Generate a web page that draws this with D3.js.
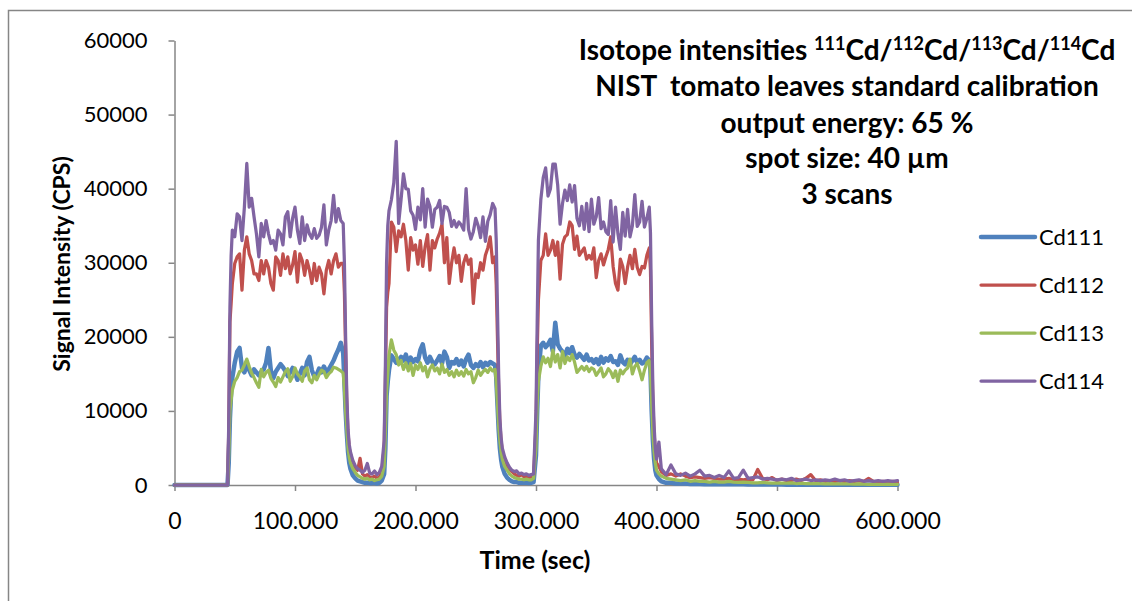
<!DOCTYPE html>
<html>
<head>
<meta charset="utf-8">
<script src="https://cdn.jsdelivr.net/npm/d3@7"></script>
<style>
  html, body { margin: 0; padding: 0; background: #fff; }
  svg { display: block; font-family: Lato, sans-serif; }
</style>
</head>
<body>
<svg id="chart" width="1132" height="601"></svg>
<script>
// time (sec) of each sample, shared by all four isotopes
const times = [
  0, 10, 20, 30, 40, 44, 45, 46, 47,
  48, 50, 52, 54, 56, 58, 60, 62, 64, 66, 68, 70, 72, 74, 76, 78, 80, 82, 84, 86, 88, 90, 92, 94,
  96, 98, 100, 102, 104, 106, 108, 110, 112, 114, 116, 118, 120, 122, 124, 126, 128, 130, 132, 134, 136, 138, 140,
  141, 142, 143, 144, 145, 146, 148,
  150, 152, 154, 156, 158, 160, 162, 164, 166, 168, 170, 172,
  174, 175, 176, 177,
  178, 180, 182, 184, 186, 188, 190, 192, 194, 196, 198, 200, 202, 204, 206, 208, 210, 212, 214, 216, 218, 220,
  222, 224, 226, 228, 230, 232, 234, 236, 238, 240, 242, 244, 246, 248, 250, 252, 254, 256, 258, 260, 262, 264, 266,
  267, 268, 269, 270, 271, 272, 274,
  276, 278, 280, 282, 284, 286, 288, 290, 292, 294, 296, 298,
  300, 301, 302,
  304, 306, 308, 310, 312, 314, 316, 318, 320, 322, 324, 326, 328, 330, 332, 334, 336, 338, 340, 342, 344, 346, 348,
  350, 352, 354, 356, 358, 360, 362, 364, 366, 368, 370, 372, 374, 376, 378, 380, 382, 384, 386, 388, 390, 392, 394,
  395, 396, 397, 398, 399, 400, 402,
  404, 408, 412, 416, 420, 424, 428, 432, 436, 440, 444, 448, 452, 456, 460, 464, 468, 472, 476, 480,
  484, 488, 492, 496, 500, 504, 508, 512, 516, 520, 524, 528, 532, 536, 540, 544, 548, 552, 556, 560,
  564, 568, 572, 576, 580, 584, 588, 592, 596, 600
];

const cd111 = [
  0, 0, 0, 0, 0, 0, 3000, 9000, 12500,
  14500, 16500, 18000, 18500, 15800, 15200, 16300, 15500, 14800, 15600,
  15200, 14800, 15300, 15600, 16500, 18500, 15400, 14400, 15300, 15800,
  16300, 15900, 15400, 14700, 15200, 15800, 15100, 14200, 15000, 15800,
  14800, 16600, 17300, 15500, 14600, 14900, 15700, 15200, 16000, 15300,
  15600, 16200, 16800, 17600, 18300, 19200, 17800,
  14000, 10000, 7000, 4500, 3000, 2200, 1300,
  900, 600, 500, 400, 300, 300, 250, 250, 300, 200, 300, 600,
  1500, 5000, 12000, 14000,
  15500, 17500, 17000, 16500, 16900, 17300, 16800, 17600, 16400, 17200,
  16600, 17000, 16700, 18200, 19000, 17200, 16500, 17300, 16600, 16300,
  16800, 17400, 16400, 18000, 17300, 15800, 16600, 16400, 17000, 16200,
  16800, 16000, 17000, 17600, 16200, 15800, 16300, 16000, 16600, 15900,
  16500, 16200, 16600, 16400, 16200,
  14500, 11000, 7500, 5000, 3500, 2500, 1500,
  1000, 700, 500, 400, 400, 300, 300, 300, 300, 250, 300, 400,
  4000, 10000, 15000,
  18800, 19200, 18600, 19000, 19600, 18000, 21900, 19000, 18400, 18000,
  17400, 18400, 17800, 18600, 17600, 17200, 17700, 17300, 16900, 17600,
  16800, 17000, 16500, 17000, 16300, 17300, 16500, 17100, 16800, 17400,
  16600, 16700, 16200, 17500, 16600, 16300, 16900, 16300, 16800, 17300,
  16500, 16900, 16400, 16600, 17200, 16800,
  15500, 10000, 6000, 3500, 2000, 1300, 800,
  500, 300, 300, 200, 200, 200, 150, 150, 150, 100, 100, 100, 100, 100, 100, 100, 100, 100, 80, 80,
  80, 80, 60, 60, 60, 60, 50, 50, 50, 50, 50, 50, 50, 40, 40, 40, 40, 40, 40, 40,
  30, 30, 30, 30, 30, 30, 30, 30, 30, 30
];

const cd112 = [
  0, 0, 0, 0, 0, 0, 7000, 22000, 24500,
  27200, 29900, 30800, 31200, 26300, 31700, 33500, 31200, 30300, 28500,
  28500, 27600, 30300, 28500, 30300, 29400, 27200, 26300, 30800, 30300,
  28300, 31200, 29200, 30800, 28500, 29700, 31500, 27400, 31200, 30300,
  28300, 30300, 29000, 27200, 29900, 27600, 29400, 28500, 25800, 29000,
  30300, 28500, 30300, 31200, 29400, 29900, 29900,
  26000, 18000, 11000, 7000, 5000, 4200, 3000,
  2300, 2000, 3600, 1500, 1200, 1400, 1100, 1000, 1200, 900, 1100, 1800,
  5000, 14000, 24000, 26000,
  27200, 35500, 34800, 31500, 34300, 33500, 35200, 33000, 29000, 33400,
  31700, 32400, 29800, 33000, 29500, 32200, 33800, 29000, 33000, 32000,
  33200, 34000, 35200, 30000, 33400, 27200, 30000, 32000, 30000, 31000,
  27500, 30000, 31000, 29800, 30500, 24500, 28500, 28000, 30000, 29000,
  31000, 32000, 33500, 30000, 30800,
  27000, 20000, 13000, 8500, 6000, 4600, 3400,
  2600, 2100, 1800, 1500, 1300, 1200, 1400, 1100, 1200, 1000, 1100, 1200,
  8000, 18000, 25000,
  30300, 31000, 33900, 31000, 31700, 33000, 31000, 32800, 27800, 32500,
  33500, 33800, 35500, 35000, 31800, 33600, 31000, 31500, 32000, 30500,
  31000, 30500, 32000, 28000, 30300, 31200, 29700, 30800, 31800, 33500,
  29500, 27200, 26300, 30500, 29500, 27200, 29400, 31000, 29200, 31800,
  29400, 28400, 29500, 29300, 31000, 32000,
  29000, 19000, 11000, 7000, 4500, 3000, 2500,
  1800, 1300, 1500, 1200, 1500, 1200, 1000, 1100, 1000, 900, 1000, 900, 800, 800, 900, 700, 800, 700, 800, 700,
  2100, 900, 700, 1000, 600, 800, 600, 600, 800, 600, 900, 1400, 600, 700, 500, 600, 500, 600, 500, 600,
  500, 600, 500, 900, 500, 400, 500, 400, 500, 400
];

const cd113 = [
  0, 0, 0, 0, 0, 0, 4000, 10000, 11500,
  12800, 14000, 14500, 15300, 15500, 16200, 17000, 16000, 15100, 14500,
  13800, 13200, 15600, 14600, 15200, 15500, 14400, 13900, 13300, 14500,
  13900, 14600, 15300, 15700, 14000, 14600, 15800, 15000, 14600, 14000,
  15400, 15800, 14200, 13800, 14800, 14200, 14900, 15500, 15300, 14500,
  15000, 15300, 15900, 15800, 15600, 15400, 15100,
  13000, 10000, 7500, 5000, 3800, 3000, 2200,
  1700, 1300, 1100, 900, 800, 900, 700, 800, 600, 700, 800, 1200,
  2500, 7000, 12500, 15000,
  17500, 19600, 18200, 17600, 16200, 16800, 15600, 16500, 15400, 16400,
  14800, 16200, 15600, 16500, 15400, 16000, 14600, 15700, 16200, 15400,
  15800, 15000, 16300, 15200, 15600, 14800, 15300, 14600, 15500, 14800,
  15300, 14700, 15600, 15000, 15300, 13800, 14500, 15500, 14800, 15300,
  15600, 15200, 15800, 15400, 15600,
  14000, 11000, 8000, 6000, 4500, 3500, 2500,
  2000, 1500, 1200, 1000, 900, 800, 800, 700, 800, 700, 700, 900,
  5000, 11000, 14000,
  16000, 17300, 16500, 17100, 16000, 18200, 16600, 17600, 15800, 18000,
  16400, 17300, 16800, 17600, 16600, 15200, 15600, 16000, 15500, 16000,
  15300, 15800, 15600, 14800, 15300, 15800, 14600, 15000, 15700, 15300,
  14500, 15400, 14000, 15500, 15000, 15500, 15800, 17000, 15000, 16000,
  16400, 15400, 14200, 15500, 16500, 16800,
  15000, 11000, 7000, 4500, 3000, 2000, 1500,
  1200, 900, 800, 700, 600, 700, 500, 600, 500, 500, 400, 500, 400, 400, 500, 400, 350, 400, 350, 300,
  300, 350, 300, 250, 300, 250, 250, 300, 200, 250, 200, 200, 200, 200, 150, 200, 150, 150, 150, 150,
  120, 150, 120, 100, 120, 100, 100, 120, 100, 100
];

const cd114 = [
  0, 0, 0, 0, 0, 0, 8000, 24000, 31000,
  34400, 33500, 36600, 36200, 33000, 37500, 43400, 37500, 38700, 36200,
  33900, 30800, 35300, 33500, 35700, 33900, 32600, 33000, 31700, 34400,
  33900, 32400, 36200, 36900, 33500, 36000, 37500, 34400, 32600, 36200,
  33000, 35100, 33900, 33300, 34600, 33300, 33700, 34800, 37800, 32400,
  34400, 35700, 39100, 35500, 37300, 35700, 35300,
  30000, 20000, 12000, 7500, 5500, 4500, 3300,
  2600, 2200, 2000, 1700, 2000, 2900, 1600, 1500, 1900, 1400, 1700, 2500,
  6000, 16000, 30000, 35000,
  37000, 38500, 40800, 46400, 35300, 38500, 42000, 40000, 39900, 37000,
  36400, 34500, 37500, 35800, 40000, 34800, 38600, 37600, 34800, 37200,
  37500, 38400, 35300, 37600, 37500, 36800, 34900, 35700, 34800, 35500,
  35100, 34400, 40000, 34500, 33200, 34200, 36000, 35000, 33400, 36200,
  32900, 35600, 36500, 38000, 37300,
  33000, 24000, 15000, 9000, 6500, 5000, 3800,
  3000, 2400, 2000, 1800, 1900, 1500, 1600, 1400, 1500, 1300, 1400, 1500,
  10000, 22000, 33000,
  38500, 41500, 42800, 39000, 40000, 43300, 43300, 40500, 35200, 38000,
  39800, 38400, 40500, 38200, 40400, 36000, 35000, 37600, 34500, 38000,
  34200, 38600, 35200, 36200, 38800, 34600, 35500, 34200, 33800, 38400,
  32800, 37500, 33900, 31800, 36800, 33600, 37200, 33500, 35000, 39200,
  34900, 35500, 38300, 34800, 36000, 37500,
  34000, 22000, 13000, 8000, 5000, 3500, 5800,
  2200, 1400, 2700, 1500, 1300, 1600, 1200, 1500, 2000, 1200, 1300, 1000, 1300, 1000, 1900, 900, 1000, 2000, 900, 1000,
  1100, 800, 900, 800, 700, 800, 700, 900, 600, 700, 800, 600, 700, 600, 700, 600, 800, 600, 700, 500,
  600, 700, 500, 600, 500, 600, 500, 600, 500, 600
];

const seriesNames = ['Cd111', 'Cd112', 'Cd113', 'Cd114'];
const seriesColors = ['#4F81BD', '#C0504D', '#9BBB59', '#8064A2'];
const seriesWidths = [4.5, 3.25, 3.25, 3.25];

const yTicks = [0, 10000, 20000, 30000, 40000, 50000, 60000];
const xTicks = [0, 100, 200, 300, 400, 500, 600];
const xTickLabels = ['0', '100.000', '200.000', '300.000', '400.000', '500.000', '600.000'];

const series = [cd111, cd112, cd113, cd114].map((vals, i) => ({
  name: seriesNames[i],
  color: seriesColors[i],
  width: seriesWidths[i],
  points: vals.map((v, j) => [times[j], v])
}));

const svg = d3.select('#chart');
const axisColor = '#868686';

// outer chart frame (right and bottom edges fall outside the picture)
svg.append('rect')
  .attr('x', 8.5).attr('y', 10.5)
  .attr('width', 1200).attr('height', 700)
  .attr('fill', 'none')
  .attr('stroke', axisColor)
  .attr('stroke-width', 1.5);

const x = d3.scaleLinear().domain([0, 600]).range([174.5, 897.5]);
const y = d3.scaleLinear().domain([0, 60000]).range([485, 40.5]);

const yAxis = svg.append('g')
  .attr('transform', `translate(${x(0)},0)`)
  .call(d3.axisLeft(y).tickValues(yTicks).tickSize(6).tickSizeOuter(0).tickPadding(21).tickFormat(d3.format('d')));

const xAxis = svg.append('g')
  .attr('transform', `translate(0,${y(0)})`)
  .call(d3.axisBottom(x).tickValues(xTicks).tickSize(6).tickSizeOuter(0).tickPadding(22)
    .tickFormat((d, i) => xTickLabels[i]));

[yAxis, xAxis].forEach(g => {
  g.select('.domain').attr('stroke', axisColor).attr('stroke-width', 1.5);
  g.selectAll('.tick line').attr('stroke', axisColor).attr('stroke-width', 1.5);
  g.selectAll('.tick text')
    .attr('fill', '#000')
    .style('font-family', 'Lato, sans-serif')
    .style('font-size', '22px');
});
xAxis.selectAll('.tick text').style('font-size', '23px');

const line = d3.line()
  .x(d => x(d[0]))
  .y(d => y(d[1]));

svg.append('g')
  .attr('class', 'lines')
  .selectAll('path')
  .data(series)
  .join('path')
    .attr('d', d => line(d.points))
    .attr('fill', 'none')
    .attr('stroke', d => d.color)
    .attr('stroke-width', d => d.width)
    .attr('stroke-linejoin', 'round')
    .attr('stroke-linecap', 'round');

// legend
const legend = svg.append('g')
  .selectAll('g')
  .data(series)
  .join('g')
    .attr('transform', (d, i) => `translate(981,${237 + i * 48})`);

legend.append('line')
  .attr('x1', 0).attr('x2', 54)
  .attr('stroke', d => d.color)
  .attr('stroke-width', d => d.width)
  .attr('stroke-linecap', 'round');

legend.append('text')
  .attr('x', 58)
  .attr('dy', '0.35em')
  .style('font-size', '22px')
  .text(d => d.name);

// title block
const title = svg.append('g')
  .attr('text-anchor', 'middle')
  .style('font-weight', 'bold')
  .style('font-size', '28px');

const t1 = title.append('text').attr('x', 847).attr('y', 60);
const isotopes = ['111', '112', '113', '114'];
t1.append('tspan').text('Isotope intensities ');
isotopes.forEach((m, i) => {
  t1.append('tspan').attr('dy', -10).style('font-size', '18px').text(m);
  t1.append('tspan').attr('dy', 10).text(i < isotopes.length - 1 ? 'Cd/' : 'Cd');
});

const subLines = ['NIST\u00a0 tomato leaves standard calibration', 'output energy: 65 %', 'spot size: 40 µm', '3 scans'];
const subY = [96, 133, 168, 204];
subLines.forEach((s, i) => {
  title.append('text').attr('x', 847).attr('y', subY[i]).text(s);
});

// axis titles
svg.append('text')
  .attr('transform', 'translate(62,264) rotate(-90)')
  .attr('text-anchor', 'middle')
  .attr('dy', '0.35em')
  .style('font-weight', 'bold')
  .style('font-size', '23px')
  .text('Signal Intensity (CPS)');

svg.append('text')
  .attr('x', 535)
  .attr('y', 560)
  .attr('text-anchor', 'middle')
  .attr('dy', '0.35em')
  .style('font-weight', 'bold')
  .style('font-size', '25px')
  .text('Time (sec)');
</script>
</body>
</html>
